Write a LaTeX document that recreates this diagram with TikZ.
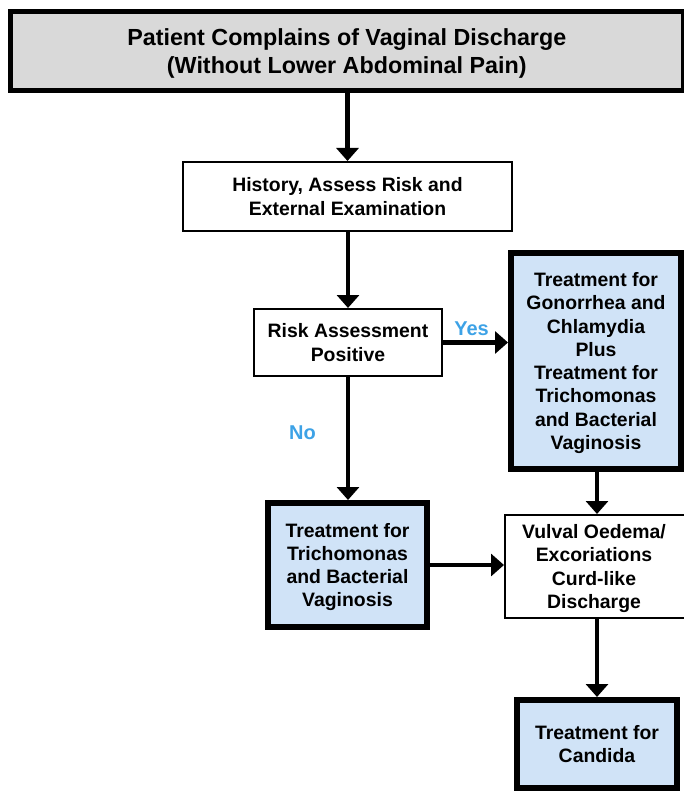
\documentclass[tikz,border=0pt]{standalone}
\usepackage{fontspec}
\setmainfont{Liberation Sans}
\usepackage{xcolor}
\usepackage{tikz}
\usetikzlibrary{arrows.meta}

\definecolor{boxgray}{HTML}{D9D9D9}
\definecolor{boxblue}{HTML}{D0E3F7}
\definecolor{answerblue}{HTML}{3DA2E6}

\begin{document}
\begin{tikzpicture}[x=1pt,y=-1pt,
  every node/.style={font=\bfseries\fontsize{19.4}{23.3}\selectfont, align=center, inner sep=0pt},
  plainbox/.style={draw, line width=2pt, fill=white, text depth=0pt},
  headbox/.style={draw, line width=5pt, fill=boxgray, text depth=0pt, font=\bfseries\fontsize{23.3}{28}\selectfont},
  treatbox/.style={draw, line width=6pt, fill=boxblue, text depth=0pt},
  arr/.style={-{Triangle[width=22pt,length=13pt]}, line width=4.5pt},
  answer/.style={text=answerblue, font=\bfseries\fontsize{20}{24}\selectfont}]
\useasboundingbox (0,0) rectangle (684,791);
\clip (0,0) rectangle (684,791);

% Boxes
\node[headbox, minimum width=672.5pt, minimum height=79pt] (complaint) at (346.75,51)
  {Patient Complains of Vaginal Discharge\\(Without Lower Abdominal Pain)};
\node[plainbox, minimum width=329pt, minimum height=69pt] (history) at (347.5,196.5)
  {History, Assess Risk and\\External Examination};
\node[plainbox, minimum width=188pt, minimum height=67pt] (risk) at (348,342.5)
  {Risk Assessment\\Positive};
\node[treatbox, minimum width=170pt, minimum height=216pt] (gcct) at (596,361)
  {Treatment for\\Gonorrhea and\\Chlamydia\\Plus\\Treatment for\\Trichomonas\\and Bacterial\\Vaginosis};
\node[treatbox, minimum width=159pt, minimum height=124pt] (tvbv) at (347.5,565)
  {Treatment for\\Trichomonas\\and Bacterial\\Vaginosis};
\node[plainbox, minimum width=184pt, minimum height=103pt] (vulval) at (597,566.5)
  {\hspace*{-6pt}Vulval Oedema/\\\hspace*{-6pt}Excoriations\\\hspace*{-6pt}Curd-like\\\hspace*{-6pt}Discharge};
\node[treatbox, minimum width=160pt, minimum height=88pt] (candida) at (597,744)
  {Treatment for\\Candida};

% Connectors
\draw[arr] (complaint.south -| history.north) -- (history.north);
\draw[arr] (history.south -| risk.north) -- (risk.north);
\draw[arr] (risk.east) -- (risk.east -| gcct.west)
  node[answer, midway, above=5pt, xshift=-4pt] {Yes};
\draw[arr] (risk.south) -- (risk.south |- tvbv.north)
  node[answer, pos=0.45, left=30pt] {No};
\draw[arr] (gcct.south -| vulval.north) -- (vulval.north);
\draw[arr] (tvbv.east) -- (tvbv.east -| vulval.west);
\draw[arr] (vulval.south) -- (candida.north);
\end{tikzpicture}
\end{document}
